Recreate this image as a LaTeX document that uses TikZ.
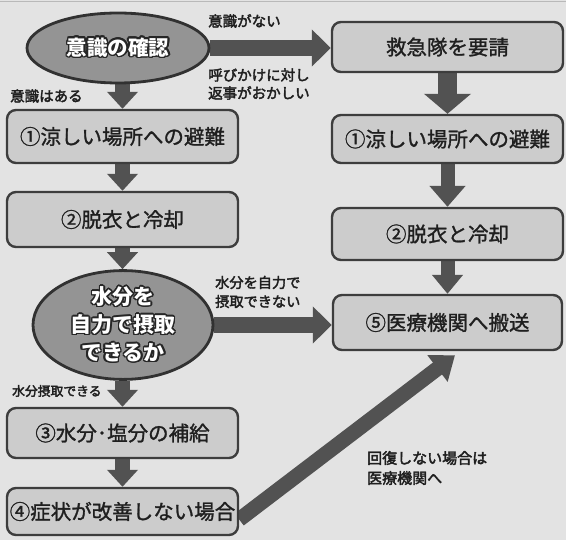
\documentclass[tikz,border=0pt]{standalone}
\usepackage{fontspec}
\setmainfont{Noto Sans CJK JP}
\newfontfamily\medfont{Noto Sans CJK JP}[FakeBold=1.3]
\newfontfamily\lblfont{Noto Sans CJK JP}[FakeBold=2.6]
\usepackage{contour}
\contourlength{1.5pt}
\usetikzlibrary{arrows.meta,shapes.geometric,backgrounds}
\definecolor{bgc}{gray}{0.89}
\definecolor{boxc}{gray}{0.80}
\definecolor{edgec}{gray}{0.24}
\definecolor{ellc}{gray}{0.58}
\definecolor{arrc}{gray}{0.32}
\definecolor{txtc}{gray}{0.12}
\newcommand{\otext}[1]{\contour{black!85}{\textcolor{white}{#1}}}
\begin{document}
\begin{tikzpicture}[x=1pt,y=-1pt,
  stepbox/.style={draw=edgec, line width=2.4pt, fill=boxc, rounded corners=9pt,
    minimum width=231pt, inner sep=0pt, text=txtc, font=\fontsize{20.5}{24}\medfont},
  decision/.style={ellipse, draw=edgec!80!black, line width=2.8pt, fill=ellc,
    inner sep=0pt, align=center},
  lbl/.style={anchor=west, inner sep=0pt, align=left, text=txtc,
    font=\fontsize{14.5}{18}\lblfont},
  harrow/.style={draw=arrc, line width=16pt, -{Triangle[width=36pt,length=19pt]}},
  varrow/.style={draw=arrc, line width=15pt, -{Triangle[width=30pt,length=17pt]}},
]
\useasboundingbox (0,0) rectangle (566,540);

% decisions
\node[decision, minimum width=182pt, minimum height=70pt,
  font=\fontsize{20.5}{24}\selectfont\bfseries] (e1) at (118,48)
  {\otext{意識の確認}};
\node[decision, minimum width=180pt, minimum height=104pt,
  font=\fontsize{21}{28}\selectfont\bfseries] (e2) at (123,325)
  {\otext{水分を}\\\otext{自力で摂取}\\\otext{できるか}};

% boxes
\node[stepbox, minimum height=50pt] (r0) at (447.5,47) {救急隊を要請};
\node[stepbox, minimum height=53pt] (b1) at (122.5,136.5) {①涼しい場所への避難};
\node[stepbox, minimum height=48pt] (r1) at (447.5,139) {①涼しい場所への避難};
\node[stepbox, minimum height=55pt] (b2) at (122.5,219.5) {②脱衣と冷却};
\node[stepbox, minimum height=52pt] (r2) at (447.5,234) {②脱衣と冷却};
\node[stepbox, minimum width=229pt, minimum height=55pt] (b5) at (447.5,322.5) {⑤医療機関へ搬送};
\node[stepbox, minimum height=50pt] (b3) at (122.5,433) {③水分･塩分の補給};
\node[stepbox, minimum height=47pt] (b4) at (122.5,511.5) {④症状が改善しない場合};

% labels
\node[lbl] (l1) at (208,21) {意識がない};
\node[lbl] (l2) at (208,84) {呼びかけに対し\\返事がおかしい};
\node[lbl] (l3) at (10,96) {意識はある};
\node[lbl, font=\fontsize{14.2}{19}\lblfont] (l4) at (215,292) {水分を自力で\\摂取できない};
\node[lbl, font=\fontsize{12.8}{15}\lblfont] (l5) at (12,391) {水分摂取できる};
\node[lbl, font=\fontsize{15}{20}\lblfont] (l6) at (367,468) {回復しない場合は\\医療機関へ};

\begin{scope}[on background layer]
  \fill[bgc] (0,0) rectangle (566,540);
  \draw[gray!55, line width=0.8pt] (0,1.5) -- (566,1.5);
  % horizontal
  \draw[harrow] (e1.east) -- (e1.east -| r0.west);
  \draw[harrow] (e2.east) -- (e2.east -| b5.west);
  % left column
  \draw[varrow] (b1.north |- e1.south) -- (b1.north);
  \draw[varrow] (b1.south) -- (b2.north);
  \draw[varrow] (b2.south) -- (b2.south |- e2.north);
  \draw[varrow] (b3.north |- e2.south) -- (b3.north);
  \draw[varrow] (b3.south) -- (b4.north);
  % right column
  \draw[draw=arrc, line width=19pt, -{Triangle[width=46pt,length=20pt]}] (r0.south) -- (r1.north);
  \draw[draw=arrc, line width=14pt, -{Triangle[width=35pt,length=21pt]}] (r1.south) -- (r2.north);
  \draw[draw=arrc, line width=14pt, -{Triangle[width=30pt,length=19pt]}] (r2.south) -- (b5.north);
  % diagonal
  \draw[draw=arrc, line width=15pt, -{Triangle[width=32pt,length=22pt]}]
    ([yshift=-8pt]b4.east) -- ([xshift=7.5pt,yshift=-4pt]b5.south);
\end{scope}
\end{tikzpicture}
\end{document}
